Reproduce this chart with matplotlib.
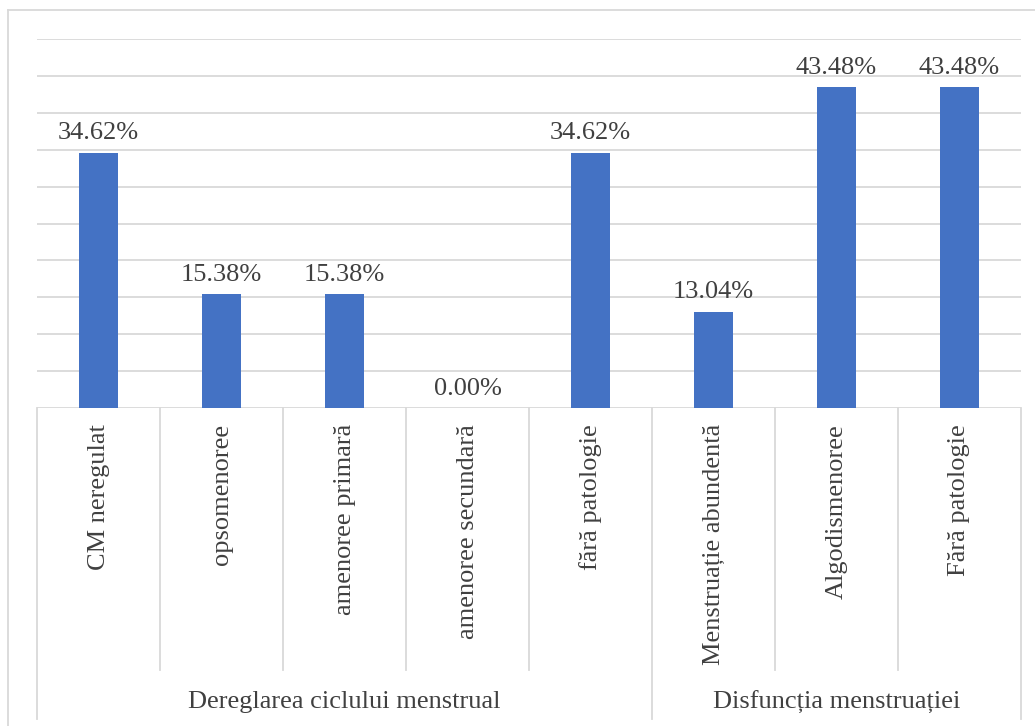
import matplotlib.pyplot as plt
from matplotlib.lines import Line2D

plt.rcParams['font.family'] = ['Liberation Serif', 'DejaVu Serif']

categories = ["CM neregulat", "opsomenoree", "amenoree primară", "amenoree secundară",
              "fără patologie", "Menstruație abundentă", "Algodismenoree", "Fără patologie"]
values = [34.62, 15.38, 15.38, 0.00, 34.62, 13.04, 43.48, 43.48]
groups = ["Dereglarea ciclului menstrual", "Disfuncția menstruației"]
group_sizes = [5, 3]

bar_color = "#4472C4"
grid_color = "#D9D9D9"
text_color = "#404040"

W, H = 1035, 726
fig = plt.figure(figsize=(W / 100, H / 100), dpi=100)

# plot area in pixels
left, right, top, base = 37, 1021, 39, 408
ax = fig.add_axes([left / W, (H - base) / H, (right - left) / W, (base - top) / H])
n = len(categories)
x = list(range(n))
ax.bar(x, values, width=0.32, color=bar_color, zorder=3)
ax.set_xlim(-0.5, n - 0.5)
ax.set_ylim(0, 50)
ax.set_yticks(range(0, 51, 5))
ax.yaxis.grid(True, color=grid_color, linewidth=1.3)
ax.set_axisbelow(True)
ax.tick_params(left=False, bottom=False, labelleft=False, labelbottom=False)
for s in ax.spines.values():
    s.set_visible(False)

for xi, v in zip(x, values):
    ax.annotate(f"{v:.2f}%", (xi, v), xytext=(0, 6), textcoords="offset points",
                ha="center", va="bottom", fontsize=19, color=text_color)

# category axis below the bars
cax = fig.add_axes([left / W, 0, (right - left) / W, (H - base) / H])
cax.set_xlim(-0.5, n - 0.5)
cax.set_ylim(H - base, 0)
cax.axis("off")

outer = [0]
for g in group_sizes:
    outer.append(outer[-1] + g)
for i in range(n + 1):
    if i in outer:
        y_end = 311
    else:
        y_end = 262
    cax.plot([i - 0.5, i - 0.5], [0, y_end], color=grid_color, lw=1.3, clip_on=False)

for xi, c in zip(x, categories):
    cax.text(xi, 16, c, rotation=90, ha="center", va="top", fontsize=19, color=text_color)

for gi, g in enumerate(groups):
    mid = (outer[gi] + outer[gi + 1] - 1) / 2
    cax.text(mid, 294, g, ha="center", va="center", fontsize=19, color=text_color)

# chart frame
fig.add_artist(Line2D([8 / W, 1], [1 - 10 / H, 1 - 10 / H], color=grid_color, lw=1.3))
fig.add_artist(Line2D([8 / W, 8 / W], [0, 1 - 10 / H], color=grid_color, lw=1.3))

fig.savefig("out.png", dpi=100)
